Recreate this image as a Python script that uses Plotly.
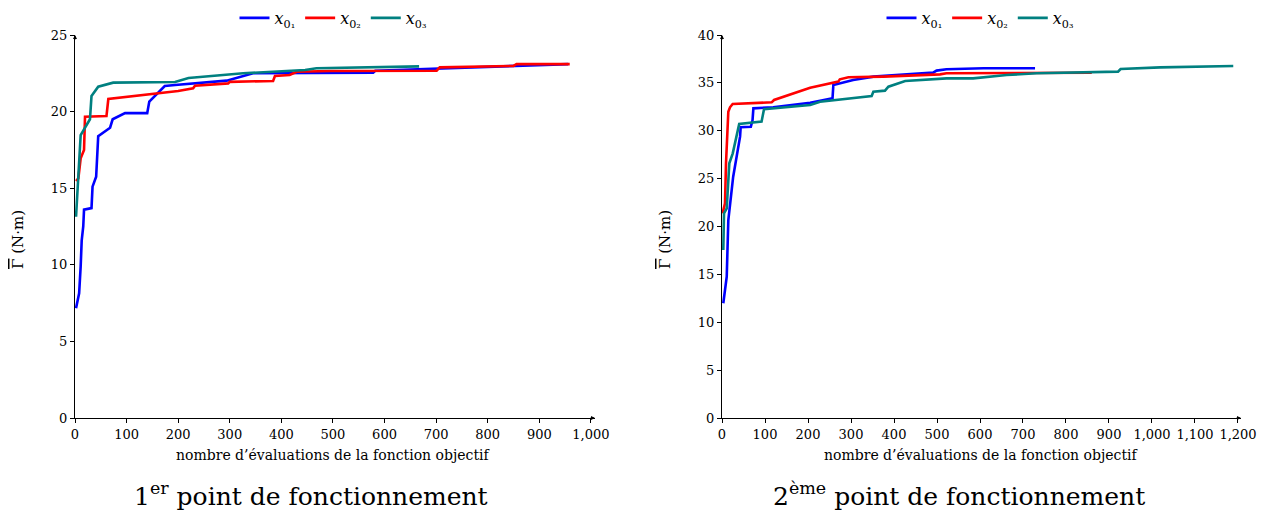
import plotly.graph_objects as go

# ---------------- data: 1st operating point ----------------
p1_x01_n = [2, 8, 11, 13, 16, 17.5, 32, 34, 41, 45, 68, 73, 97, 140, 144, 158, 174, 194, 294, 345, 578, 582, 700, 850, 956]
p1_x01_v = [7.16, 8.14, 9.9, 11.6, 12.5, 13.6, 13.7, 15.1, 15.75, 18.4, 18.95, 19.5, 19.9, 19.9, 20.65, 21.15, 21.67, 21.74, 22.02, 22.5, 22.54, 22.67, 22.8, 22.98, 23.1]

p1_x02_n = [2, 6.5, 11, 17.5, 19.4, 61, 64.6, 158, 200, 229, 232.6, 297, 300, 384, 387.6, 416, 430, 494, 701, 707, 850, 856, 959]
p1_x02_v = [15.47, 15.64, 16.95, 17.49, 19.67, 19.71, 20.82, 21.19, 21.34, 21.52, 21.69, 21.84, 21.94, 22.0, 22.32, 22.39, 22.6, 22.65, 22.67, 22.89, 22.98, 23.1, 23.1]

p1_x03_n = [2, 6.5, 11, 29, 32, 45, 74, 194, 220, 326, 446, 468, 667]
p1_x03_v = [13.14, 15.5, 18.47, 19.5, 21.02, 21.63, 21.89, 21.93, 22.19, 22.5, 22.72, 22.83, 22.95]

# ---------------- data: 2nd operating point ----------------
p2_x01_n = [3, 11, 14.7, 26, 42, 43.4, 67, 71, 73, 119, 205, 257, 259, 305, 352, 491, 499, 522, 608, 728]
p2_x01_v = [11.98, 14.76, 20.68, 25.2, 29.38, 30.36, 30.42, 31.1, 32.34, 32.45, 32.93, 33.39, 34.78, 35.3, 35.65, 36.07, 36.28, 36.42, 36.52, 36.52]

p2_x02_n = [1.5, 7, 9.3, 14.7, 18.6, 24.8, 115.5, 121, 205, 270.5, 274, 294, 375, 507, 522, 860]
p2_x02_v = [21.38, 22.42, 26.6, 31.99, 32.45, 32.79, 32.97, 33.21, 34.5, 35.13, 35.37, 35.58, 35.65, 35.89, 36.0, 36.05]

p2_x03_n = [3, 4.7, 11, 17, 25, 30, 35.7, 40, 92, 97.7, 205, 228, 348, 352, 379, 387, 426, 522, 584, 631, 662, 732, 921, 927, 1019, 1189]
p2_x03_v = [17.55, 21.38, 21.9, 26.6, 27.64, 28.69, 29.55, 30.7, 30.95, 32.24, 32.69, 33.03, 33.63, 34.08, 34.19, 34.6, 35.2, 35.47, 35.47, 35.65, 35.82, 36.0, 36.17, 36.45, 36.62, 36.76]

x1_ticks = [0, 100, 200, 300, 400, 500, 600, 700, 800, 900, 1000]
x1_labels = ["0", "100", "200", "300", "400", "500", "600", "700", "800", "900", "1,000"]
x2_ticks = [0, 100, 200, 300, 400, 500, 600, 700, 800, 900, 1000, 1100, 1200]
x2_labels = ["0", "100", "200", "300", "400", "500", "600", "700", "800", "900", "1,000", "1,100", "1,200"]
y1_ticks = [0, 5, 10, 15, 20, 25]
y2_ticks = [0, 5, 10, 15, 20, 25, 30, 35, 40]

series_names = ["<i>x</i><sub>0₁</sub>", "<i>x</i><sub>0₂</sub>", "<i>x</i><sub>0₃</sub>"]
colors = ["#0000ff", "#ff0000", "#008080"]

W, H = 1269, 513
FONT = "DejaVu Serif"

def px_x(p):
    return p / W

def px_y(p):
    return (H - p) / H

fig = go.Figure()

p1 = [(p1_x01_n, p1_x01_v), (p1_x02_n, p1_x02_v), (p1_x03_n, p1_x03_v)]
p2 = [(p2_x01_n, p2_x01_v), (p2_x02_n, p2_x02_v), (p2_x03_n, p2_x03_v)]

for i, (n, v) in enumerate(p1):
    fig.add_trace(go.Scatter(x=n, y=v, mode="lines", name=series_names[i],
                             line=dict(color=colors[i], width=2.6),
                             xaxis="x", yaxis="y", legend="legend"))
for i, (n, v) in enumerate(p2):
    fig.add_trace(go.Scatter(x=n, y=v, mode="lines", name=series_names[i],
                             line=dict(color=colors[i], width=2.6),
                             xaxis="x2", yaxis="y2", legend="legend2"))

# axis geometry (pixels)
L1_0, L1_end, X1MAX = 75, 595, 1008
L2_0, L2_end, X2MAX = 722, 1241, 1207
Y_BOT, Y_TOP = 418, 35

axis_common = dict(showgrid=False, zeroline=False, showline=True, linecolor="black",
                   linewidth=1, ticks="outside", ticklen=4, tickcolor="black",
                   tickfont=dict(family=FONT, size=13, color="black"), mirror=False,
                   automargin=False)

fig.update_layout(
    width=W, height=H,
    margin=dict(l=0, r=0, t=0, b=0, autoexpand=False),
    paper_bgcolor="white", plot_bgcolor="white",
    font=dict(family=FONT, color="black"),
    xaxis=dict(domain=[px_x(L1_0), px_x(L1_end)], range=[0, X1MAX], anchor="y",
               tickvals=x1_ticks, ticktext=x1_labels, **axis_common),
    yaxis=dict(domain=[px_y(Y_BOT), px_y(Y_TOP)], range=[0, 25], anchor="x",
               tickvals=y1_ticks, **axis_common),
    xaxis2=dict(domain=[px_x(L2_0), px_x(L2_end)], range=[0, X2MAX], anchor="y2",
                tickvals=x2_ticks, ticktext=x2_labels, **axis_common),
    yaxis2=dict(domain=[px_y(Y_BOT), px_y(Y_TOP)], range=[0, 40], anchor="x2",
                tickvals=y2_ticks, **axis_common),
    legend=dict(orientation="h", x=px_x(333), xanchor="center", y=px_y(18), yanchor="middle",
                font=dict(family=FONT, size=16), itemwidth=30, bgcolor="rgba(0,0,0,0)",
                tracegroupgap=0),
    legend2=dict(orientation="h", x=px_x(980), xanchor="center", y=px_y(18), yanchor="middle",
                 font=dict(family=FONT, size=16), itemwidth=30, bgcolor="rgba(0,0,0,0)",
                 tracegroupgap=0),
    showlegend=True,
)

ann = []
# x axis titles
for cx in (333, 981):
    ann.append(dict(text="nombre d’évaluations de la fonction objectif", x=px_x(cx), y=px_y(455),
                    xref="paper", yref="paper", showarrow=False, xanchor="center", yanchor="middle",
                    font=dict(family=FONT, size=14, color="black")))
# y axis titles
for cx in (18, 665):
    ann.append(dict(text="<span style='text-decoration:overline'>Γ</span> (N·m)",
                    x=px_x(cx), y=px_y(240), xref="paper", yref="paper",
                    showarrow=False, textangle=-90, xanchor="center", yanchor="middle",
                    font=dict(family=FONT, size=15, color="black")))
# bottom captions
ann.append(dict(text="1<sup>er</sup> point de fonctionnement", x=px_x(311), y=px_y(494),
                xref="paper", yref="paper", showarrow=False, xanchor="center", yanchor="middle",
                font=dict(family=FONT, size=25, color="black")))
ann.append(dict(text="2<sup>ème</sup> point de fonctionnement", x=px_x(959), y=px_y(494),
                xref="paper", yref="paper", showarrow=False, xanchor="center", yanchor="middle",
                font=dict(family=FONT, size=25, color="black")))
# axis arrowheads
for xr, yr, xm, ym in (("x", "y", X1MAX, 25), ("x2", "y2", X2MAX, 40)):
    ann.append(dict(x=xm, y=0, xref=xr, yref=yr, ax=-6, ay=0, showarrow=True, arrowhead=2,
                    arrowsize=0.8, arrowwidth=1, arrowcolor="black", text=""))
    ann.append(dict(x=0, y=ym, xref=xr, yref=yr, ax=0, ay=6, showarrow=True, arrowhead=2,
                    arrowsize=0.8, arrowwidth=1, arrowcolor="black", text=""))
fig.update_layout(annotations=ann)

fig.write_html("out.html", config={"displayModeBar": False},
               post_script="document.body.style.margin='0';document.body.style.overflow='hidden';")
